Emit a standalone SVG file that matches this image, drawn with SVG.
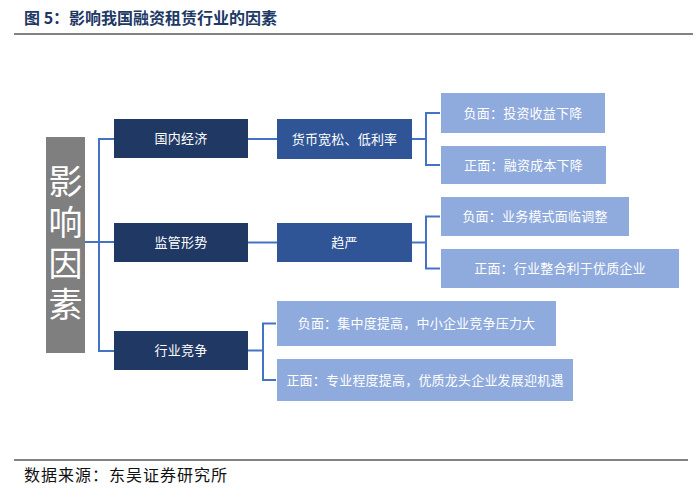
<svg xmlns="http://www.w3.org/2000/svg" width="700" height="499" viewBox="0 0 700 499">
<style>
text{font-family:"Noto Sans CJK SC","Liberation Sans",sans-serif;}
.t{font-size:13px;fill:#fff;text-anchor:middle;letter-spacing:0.2px;}
.big{font-size:34px;fill:#fff;writing-mode:vertical-rl;letter-spacing:7px;}
.l1{fill:#203864;}
.l2{fill:#2f5597;}
.l3{fill:#8faadc;}
.conn{fill:none;stroke:#4472c4;stroke-width:2;}
.rule{stroke:#595959;stroke-width:1.6;}
</style>
<rect width="700" height="499" fill="#fff"/>
<text x="24" y="24" font-size="16" font-weight="bold" fill="#203864">图 5：影响我国融资租赁行业的因素</text>
<line class="rule" x1="14" y1="34" x2="693" y2="34"/>
<line class="rule" x1="14" y1="460" x2="688" y2="460"/>
<text x="24" y="481" font-size="16" fill="#111" letter-spacing="1">数据来源：东吴证券研究所</text>

<g id="connectors">
<path class="conn" d="M114,139 H99 V351 H114"/>
<path class="conn" d="M85,242 H114"/>
<path class="conn" d="M248,139 H277"/>
<path class="conn" d="M248,242.5 H277"/>
<path class="conn" d="M412,139 H426"/>
<path class="conn" d="M440,113 H426 V165 H440"/>
<path class="conn" d="M412,242.5 H426"/>
<path class="conn" d="M440,216.5 H426 V268.5 H440"/>
<path class="conn" d="M248,350.5 H263"/>
<path class="conn" d="M276,323.5 H263 V380 H276"/>
</g>

<g id="root">
<rect x="46" y="137" width="39" height="216" fill="#7f7f7f"/>
<text class="big" x="65.5" y="164">影响因素</text>
</g>

<g id="n-guonei"><rect class="l1" x="114" y="119" width="134" height="39"/><text class="t" x="181" y="143.2">国内经济</text></g>
<g id="n-jianguan"><rect class="l1" x="114" y="223" width="134" height="39"/><text class="t" x="181" y="247.2">监管形势</text></g>
<g id="n-hangye"><rect class="l1" x="114" y="331" width="134" height="39"/><text class="t" x="181" y="355.2">行业竞争</text></g>

<g id="n-huobi"><rect class="l2" x="277" y="119" width="135" height="40"/><text class="t" x="344.5" y="143.6">货币宽松、低利率</text></g>
<g id="n-quyan"><rect class="l2" x="277" y="223" width="135" height="39"/><text class="t" x="344.5" y="247.2">趋严</text></g>

<g id="n-1a"><rect class="l3" x="441" y="93" width="164" height="40"/><text class="t" x="523" y="117.6">负面：投资收益下降</text></g>
<g id="n-1b"><rect class="l3" x="441" y="146" width="165" height="38"/><text class="t" x="523.5" y="169.6">正面：融资成本下降</text></g>
<g id="n-2a"><rect class="l3" x="441" y="197" width="188" height="39"/><text class="t" x="535" y="221.2">负面：业务模式面临调整</text></g>
<g id="n-2b"><rect class="l3" x="441" y="249" width="238" height="39"/><text class="t" x="560" y="273.2">正面：行业整合利于优质企业</text></g>
<g id="n-3a"><rect class="l3" x="277" y="301" width="279" height="45"/><text class="t" x="416.5" y="328.2">负面：集中度提高，中小企业竞争压力大</text></g>
<g id="n-3b"><rect class="l3" x="277" y="359" width="296" height="42"/><text class="t" x="425" y="384.6">正面：专业程度提高，优质龙头企业发展迎机遇</text></g>
</svg>
